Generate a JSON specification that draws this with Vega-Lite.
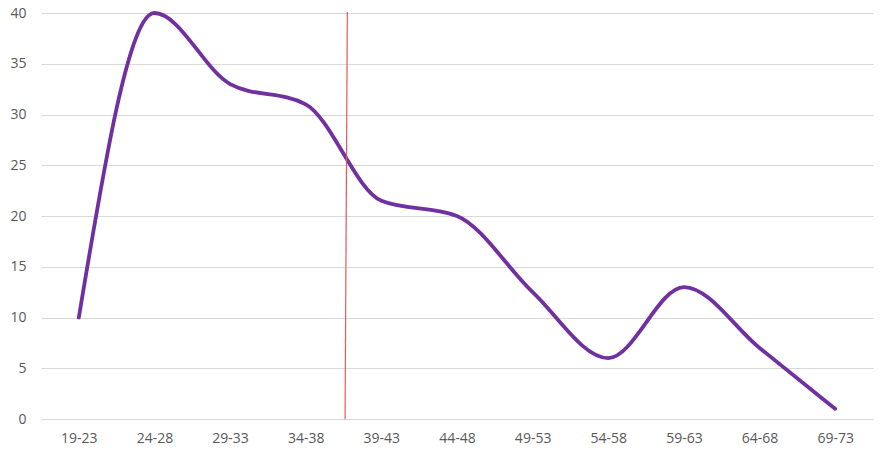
{
  "$schema": "https://vega.github.io/schema/vega-lite/v6.json",
  "width": 832,
  "height": 406,
  "autosize": {"type": "none"},
  "padding": {"left": 41, "top": 13, "right": 13, "bottom": 38},
  "background": "white",
  "config": {
    "view": {"stroke": null},
    "axis": {"labelFont": "Open Sans", "labelFontSize": 14, "labelColor": "#595959"}
  },
  "datasets": {
    "ages": [
      {"age": "19-23", "value": 10},
      {"age": "24-28", "value": 40},
      {"age": "29-33", "value": 33},
      {"age": "34-38", "value": 31},
      {"age": "39-43", "value": 21.5},
      {"age": "44-48", "value": 20},
      {"age": "49-53", "value": 12.5},
      {"age": "54-58", "value": 6},
      {"age": "59-63", "value": 13},
      {"age": "64-68", "value": 7},
      {"age": "69-73", "value": 1}
    ],
    "marker": [
      {"pos_top": 4.05, "pos_bottom": 4.02, "top": 40.1, "bottom": 0}
    ]
  },
  "layer": [
    {
      "data": {"name": "ages"},
      "mark": {"type": "line", "interpolate": "monotone", "color": "#7030a0", "strokeWidth": 3.8, "strokeCap": "round"},
      "encoding": {
        "x": {
          "field": "age", "type": "ordinal", "sort": null,
          "scale": {"type": "point", "padding": 0.5},
          "axis": {"title": null, "labelAngle": 0, "domain": false, "ticks": false, "grid": false, "labelPadding": 12}
        },
        "y": {
          "field": "value", "type": "quantitative",
          "scale": {"domain": [0, 40], "nice": false},
          "axis": {"title": null, "values": [0, 5, 10, 15, 20, 25, 30, 35, 40], "domain": false, "ticks": false, "gridColor": "#d9d9d9", "gridWidth": 1.2, "labelPadding": 15}
        }
      }
    },
    {
      "data": {"name": "marker"},
      "mark": {"type": "rule", "color": "#e8585a", "strokeWidth": 1.2},
      "encoding": {
        "x": {"field": "pos_top", "type": "quantitative", "scale": {"domain": [0, 11], "nice": false, "zero": false}, "axis": null},
        "x2": {"field": "pos_bottom"},
        "y": {"field": "top", "type": "quantitative"},
        "y2": {"field": "bottom"}
      }
    }
  ],
  "resolve": {"scale": {"x": "independent"}}
}
